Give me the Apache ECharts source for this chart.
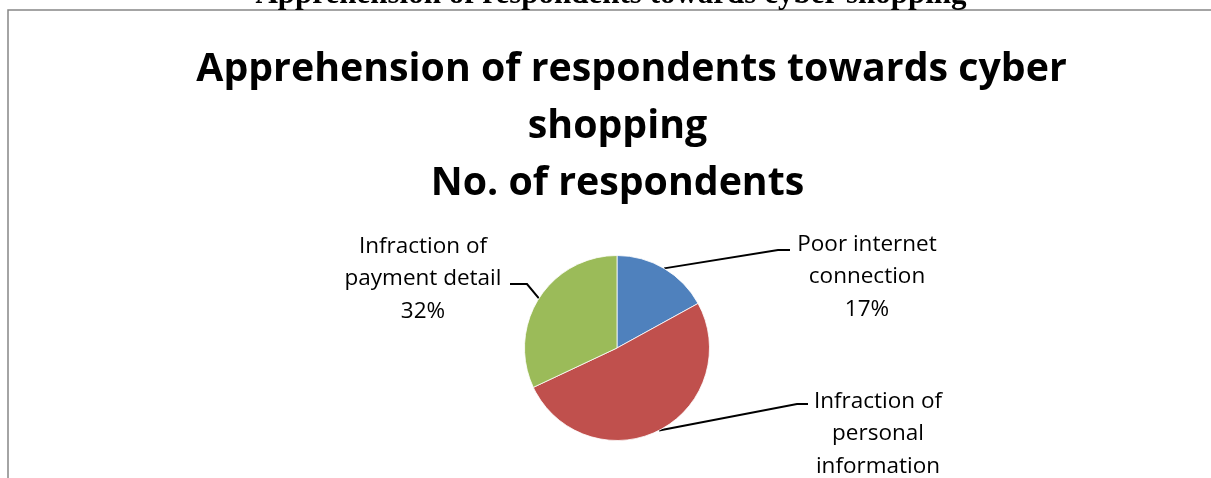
<!DOCTYPE html>
<html><head><meta charset="utf-8">
<script src="https://cdn.jsdelivr.net/npm/echarts@6/dist/echarts.min.js"></script>
<style>html,body{margin:0;padding:0;background:#fff}#c{width:1211px;height:478px}</style>
</head><body><div id="c"></div>
<script>
// ---- data ----
const categories = ['Poor internet\nconnection', 'Infraction of\npersonal\ninformation', 'Infraction of\npayment detail'];
const values = [17, 51, 32];
const colors = ['#4F81BD', '#C0504D', '#9BBB59'];
const titleLines = ['Apprehension of respondents towards cyber', 'shopping', 'No. of respondents'];
const headerText = 'Apprehension of respondents towards cyber shopping';

// ---- label placement (layout only) ----
const labelPlacement = [
  {cx: 867, cy: 277, lineY: 250, edge: 790, stub: 12},
  {cx: 878, cy: 450, lineY: 404, edge: 808, stub: 11},
  {cx: 423, cy: 279, lineY: 284, edge: 510, stub: -17}
];

const chart = echarts.init(document.getElementById('c'), null, {renderer: 'canvas'});
chart.setOption({
  animation: false,
  backgroundColor: '#fff',
  title: {
    left: 'center',
    top: 41,
    padding: 0,
    text: '{a|' + titleLines[0] + '}\n{b|' + titleLines[1] + '}\n{b|' + titleLines[2] + '}',
    textStyle: {
      rich: {
        a: {fontFamily: 'Open Sans', fontWeight: 'bold', fontSize: 39.3, lineHeight: 57, color: '#000', padding: [0, 0, 0, 52]},
        b: {fontFamily: 'Open Sans', fontWeight: 'bold', fontSize: 39.3, lineHeight: 57, color: '#000', padding: [0, 0, 0, 24]}
      }
    }
  },
  graphic: [
    {type: 'rect', shape: {x: 8, y: 10, width: 1400, height: 800}, style: {fill: 'none', stroke: '#868686', lineWidth: 1.5}, z: 0},
    {type: 'text', x: 611, y: -5, style: {text: headerText, fontFamily: 'Liberation Serif', fontWeight: 'bold', fontSize: 31, fill: '#000', align: 'center', verticalAlign: 'middle'}}
  ],
  series: [{
    type: 'pie',
    center: [617, 348],
    radius: 92.5,
    startAngle: 90,
    clockwise: true,
    avoidLabelOverlap: false,
    data: categories.map((c, i) => ({name: c, value: values[i], itemStyle: {color: colors[i]}})),
    itemStyle: {borderColor: '#fff', borderWidth: 0.8},
    label: {
      show: true,
      position: 'outside',
      formatter: '{b}\n{d}%',
      fontFamily: 'Open Sans',
      fontSize: 22.5,
      lineHeight: 32.5,
      color: '#000',
      align: 'center'
    },
    labelLine: {show: true, length: 20, length2: 10, lineStyle: {color: '#000', width: 2}},
    labelLayout: function (params) {
      const p = labelPlacement[params.dataIndex];
      const p0 = params.labelLinePoints ? params.labelLinePoints[0] : [0, 0];
      return {
        x: p.cx,
        y: p.cy,
        align: 'center',
        verticalAlign: 'middle',
        labelLinePoints: [p0, [p.edge - p.stub, p.lineY], [p.edge, p.lineY]]
      };
    },
    emphasis: {disabled: true}
  }]
});
</script></body></html>
